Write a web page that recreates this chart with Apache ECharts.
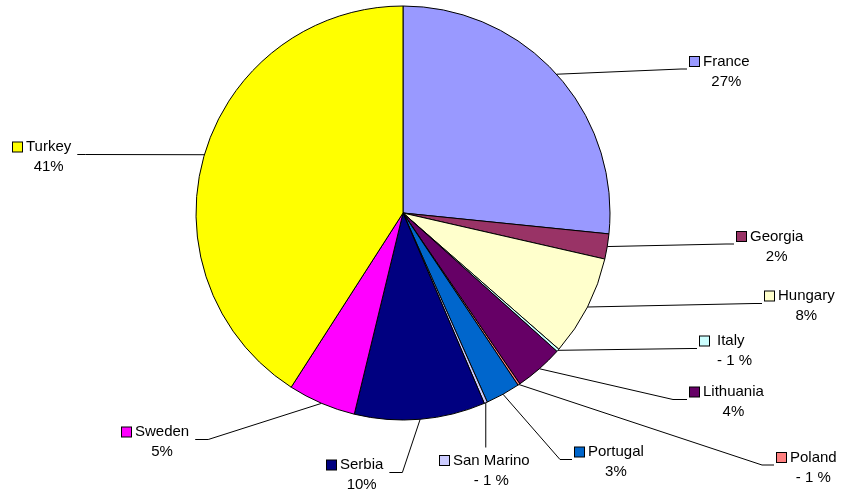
<!DOCTYPE html>
<html>
<head>
<meta charset="utf-8">
<script src="https://cdn.jsdelivr.net/npm/echarts@6/dist/echarts.min.js"></script>
<style>
  html, body { margin: 0; padding: 0; background: #fff; }
  #chart { width: 841px; height: 493px; }
</style>
</head>
<body>
<div id="chart"></div>
<script>
// Countries, clockwise from twelve o'clock
const categories = ['France', 'Georgia', 'Hungary', 'Italy', 'Lithuania', 'Poland',
                    'Portugal', 'San Marino', 'Serbia', 'Sweden', 'Turkey'];
// Share of the total, in percent
const shares = [26.6, 1.96, 7.86, 0.22, 3.8, 0.17, 2.7, 0.25, 10.2, 5.3, 40.9];
// Slice fill colours
const colors = ['#9999FF', '#993366', '#FFFFCC', '#CCFFFF', '#660066', '#FF8080',
                '#0066CC', '#CCCCFF', '#000080', '#FF00FF', '#FFFF00'];

// Label placement: [left, top, side the leader line joins, horizontal stub length]
const labelSpots = [
  [690, 51.5, 'left', 6],
  [737, 226.5, 'left', 8],
  [765, 286, 'left', 8],
  [700, 331, 'left', 6],
  [690, 382, 'left', 14],
  [777, 447.5, 'left', 12],
  [575, 442, 'left', 12],
  [440, 450.5, 'top', 0],
  [327, 455, 'right', 13],
  [122, 422, 'right', 13],
  [13, 137, 'right', 8]
];
// Space between the colour key and the country name
const keyGaps = [4, 4, 4, 8, 4, 4, 4, 4, 4, 4, 4];

const KEY = 9;
const rich = {
  name: { fontSize: 15, lineHeight: 20, color: '#000', align: 'left' },
  val: { fontSize: 15, lineHeight: 20, color: '#000', align: 'center' }
};
colors.forEach(function (c, i) {
  rich['s' + i] = { width: KEY, height: KEY, backgroundColor: c, borderColor: '#000', borderWidth: 1, align: 'left' };
  rich['g' + i] = { width: keyGaps[i], height: KEY, align: 'left' };
  rich['p' + i] = { width: KEY + keyGaps[i], height: KEY, align: 'center' };
});

const chart = echarts.init(document.getElementById('chart'), null, { renderer: 'canvas' });

chart.setOption({
  animation: false,
  backgroundColor: '#fff',
  textStyle: { fontFamily: '"Liberation Sans", Arial, sans-serif' },
  series: [{
    type: 'pie',
    center: [403, 213],
    radius: 207,
    startAngle: 90,
    clockwise: true,
    avoidLabelOverlap: false,
    silent: true,
    emphasis: { disabled: true },
    itemStyle: { borderColor: '#000', borderWidth: 1 },
    label: {
      show: true,
      position: 'outside',
      fontFamily: '"Liberation Sans", Arial, sans-serif',
      fontSize: 15,
      color: '#000',
      formatter: function (p) {
        const i = p.dataIndex;
        const pct = p.percent < 1 ? '- 1 %' : Math.round(p.percent) + '%';
        return '{s' + i + '|}{g' + i + '|}{name|' + p.name + '}\n{p' + i + '|}{val|' + pct + '}';
      },
      rich: rich
    },
    labelLine: {
      show: true,
      length: 20,
      length2: 10,
      lineStyle: { color: '#000', width: 1 }
    },
    labelLayout: function (params) {
      const spot = labelSpots[params.dataIndex];
      const x = spot[0], y = spot[1];
      const w = params.labelRect.width, h = params.labelRect.height;
      const anchor = params.labelLinePoints[0];
      let end, elbow;
      if (spot[2] === 'left') {
        end = [x - 3, y + h / 2];
        elbow = [end[0] - spot[3], end[1]];
      } else if (spot[2] === 'right') {
        end = [x + w + 5, y + h / 2];
        elbow = [end[0] + spot[3], end[1]];
      } else {
        end = [anchor[0], y - 3];
        elbow = [anchor[0], y - 3];
      }
      return {
        x: x,
        y: y,
        align: 'left',
        verticalAlign: 'top',
        labelLinePoints: [anchor, elbow, end]
      };
    },
    data: categories.map(function (name, i) {
      return { name: name, value: shares[i], itemStyle: { color: colors[i] } };
    })
  }]
});
</script>
</body>
</html>
